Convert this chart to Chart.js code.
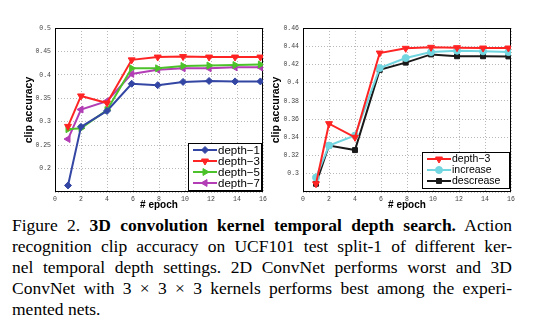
<!DOCTYPE html>
<html>
<head>
<meta charset="utf-8">
<script src="https://cdn.jsdelivr.net/npm/chart.js@4/dist/chart.umd.min.js"></script>
<style>
  body { margin: 0; background: #fff; width: 549px; height: 336px; position: relative; overflow: hidden; }
  #left { position: absolute; left: 0; top: 0; }
  #right { position: absolute; left: 265px; top: 0; }
  #cap { position: absolute; left: 12px; top: 215px; width: 500px; font-family: "Liberation Serif", "Times New Roman", serif; font-size: 17.5px; line-height: 21px; color: #000; }
  #cap .ln { text-align: justify; text-align-last: justify; white-space: nowrap; }
</style>
</head>
<body>
<canvas id="left" width="272" height="215"></canvas>
<canvas id="right" width="255" height="215"></canvas>
<div id="cap">
  <div class="ln">Figure 2. <b>3D convolution kernel temporal depth search.</b> Action</div>
  <div class="ln">recognition clip accuracy on UCF101 test split-1 of different ker-</div>
  <div class="ln">nel temporal depth settings. 2D ConvNet performs worst and 3D</div>
  <div class="ln">ConvNet with 3 × 3 × 3 kernels performs best among the experi-</div>
  <div>mented nets.</div>
</div>
<script>
// epochs where the clip accuracy was measured
const epochs = [1, 2, 4, 5.9, 7.9, 9.85, 11.85, 13.85, 15.8];

// left plot: temporal depth
const depth1 = [0.164, 0.289, 0.323, 0.381, 0.378, 0.385, 0.387, 0.386, 0.386];
const depth3 = [0.290, 0.355, 0.340, 0.432, 0.438, 0.439, 0.438, 0.438, 0.438];
const depth5 = [0.284, 0.286, 0.325, 0.414, 0.414, 0.419, 0.420, 0.421, 0.422];
const depth7 = [0.263, 0.326, 0.344, 0.402, 0.411, 0.414, 0.414, 0.416, 0.416];

// right plot: varying depth
const depth3b = [0.289, 0.355, 0.340, 0.4325, 0.4377, 0.4388, 0.4384, 0.438, 0.438];
const increase = [0.296, 0.331, 0.342, 0.416, 0.427, 0.4336, 0.435, 0.4344, 0.4336];
const decrease = [0.289, 0.331, 0.326, 0.414, 0.422, 0.431, 0.429, 0.429, 0.4288];

const xTicks = [0, 2, 4, 6, 8, 10, 12, 14, 16];

const pts = (ys) => ys.map((y, i) => ({ x: epochs[i], y: y }));

function series(label, ys, color, style, rot, r) {
  return {
    label: label,
    data: pts(ys),
    borderColor: color,
    backgroundColor: color,
    borderWidth: 2,
    pointStyle: style,
    rotation: rot,
    pointRadius: r,
    pointBorderWidth: 1,
    tension: 0,
  };
}

// box around the whole plot area
const frame = {
  id: "frame",
  beforeDatasetsDraw(chart) {
    const { ctx, chartArea: a } = chart;
    ctx.save();
    ctx.strokeStyle = "#000";
    ctx.lineWidth = 1;
    ctx.strokeRect(a.left + 0.5, a.top + 0.5, a.right - a.left - 1, a.bottom - a.top - 1);
    ctx.restore();
  },
};

// matlab-like legend in the lower right corner
const boxLegend = {
  id: "boxLegend",
  afterDatasetsDraw(chart, args, o) {
    const { ctx, chartArea: a } = chart;
    const sets = chart.data.datasets;
    const h = o.padTop + sets.length * o.rowH + o.padBottom;
    const x = a.right - o.right - o.width;
    const y = a.bottom - o.bottom - h;
    ctx.save();
    ctx.fillStyle = "#fff";
    ctx.fillRect(x, y, o.width, h);
    ctx.strokeStyle = "#000";
    ctx.lineWidth = 1;
    ctx.strokeRect(x + 0.5, y + 0.5, o.width, h);
    sets.forEach((ds, i) => {
      const cy = y + o.padTop + o.rowH * (i + 0.5);
      ctx.strokeStyle = ds.borderColor;
      ctx.fillStyle = ds.backgroundColor;
      ctx.lineWidth = 2;
      ctx.beginPath();
      ctx.moveTo(x + 5, cy);
      ctx.lineTo(x + 29, cy);
      ctx.stroke();
      ctx.lineWidth = 1;
      Chart.helpers.drawPoint(ctx, { pointStyle: ds.pointStyle, rotation: ds.rotation, radius: ds.pointRadius, borderWidth: 1 }, x + 17, cy);
      ctx.fillStyle = "#000";
      ctx.font = o.font;
      ctx.textBaseline = "middle";
      ctx.fillText(ds.label, x + 30, cy + 0.5);
    });
    ctx.restore();
  },
};

function makeChart(id, datasets, yMin, yMax, yStep, yWidth, titlePad, legendOpts) {
  new Chart(document.getElementById(id), {
    type: "line",
    data: { datasets: datasets },
    options: {
      responsive: false,
      animation: false,
      layout: { padding: { top: 28, right: 9, left: 0, bottom: 0 } },
      plugins: { legend: { display: false }, tooltip: { enabled: false }, boxLegend: legendOpts },
      scales: {
        x: {
          type: "linear",
          min: 0,
          max: 16,
          afterBuildTicks: (s) => { s.ticks = xTicks.map((v) => ({ value: v })); },
          afterFit: (s) => { s.height = 23; },
          grid: { color: "#b8b8b8", lineWidth: 1, drawTicks: false },
          border: { display: false, dash: [1, 2] },
          ticks: { font: { family: "Liberation Mono", size: 6.5 }, color: "#444", padding: 3, maxRotation: 0 },
          title: { display: true, text: "# epoch", font: { family: "Liberation Sans", size: 10, weight: "bold" }, color: "#000", padding: { top: 0, bottom: 4 } },
        },
        y: {
          min: yMin,
          max: yMax,
          afterFit: (s) => { s.width = yWidth; },
          grid: { color: "#b8b8b8", lineWidth: 1, drawTicks: false },
          border: { display: false, dash: [1, 2] },
          ticks: {
            stepSize: yStep,
            font: { family: "Liberation Mono", size: 6.5 },
            color: "#444",
            padding: 4,
            callback: (v) => (Math.abs(v - yMin) < 1e-6 ? "" : String(+v.toFixed(2))),
          },
          title: { display: true, text: "clip accuracy", font: { family: "Liberation Sans", size: 10.5, weight: "bold" }, color: "#000", padding: { top: titlePad, bottom: 0 } },
        },
      },
    },
    plugins: [frame, boxLegend],
  });
}

makeChart(
  "left",
  [
    series("depth−1", depth1, "#3346a3", "rectRot", 0, 3.5),
    series("depth−3", depth3, "#ff2424", "triangle", 180, 4),
    series("depth−5", depth5, "#4cc22a", "triangle", 90, 4),
    series("depth−7", depth7, "#b23db5", "triangle", -90, 4),
  ],
  0.15, 0.5, 0.05, 55, 23,
  { width: 73, right: 2, bottom: 2, padTop: 1.5, padBottom: 1.5, rowH: 11, font: "11.5px 'Liberation Sans'" }
);

makeChart(
  "right",
  [
    series("depth−3", depth3b, "#ff2424", "triangle", 180, 4),
    series("increase", increase, "#72d6e0", "circle", 0, 3.5),
    series("descrease", decrease, "#1a1a1a", "rect", 0, 3.5),
  ],
  0.28, 0.46, 0.02, 38, 5,
  { width: 87, right: 2, bottom: 4, padTop: 1.5, padBottom: 1.5, rowH: 11, font: "10.5px 'Liberation Sans'" }
);
</script>
</body>
</html>
